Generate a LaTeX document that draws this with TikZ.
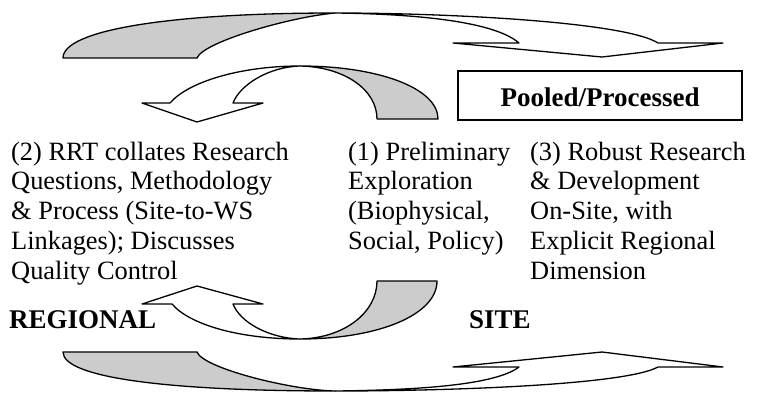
\documentclass[tikz,border=0pt]{standalone}
\usepackage{fontspec}
\setmainfont{Liberation Serif}
\definecolor{shade}{RGB}{204,204,204}
\begin{document}
\begin{tikzpicture}[x=1pt,y=-1pt,
  band/.style={draw=black, line width=1.3pt, line join=round},
  back/.style={band, fill=shade},
  front/.style={band, fill=white},
  txt/.style={anchor=base west, inner sep=0pt, font=\fontsize{26.4pt}{29.8pt}\selectfont},
  lab/.style={anchor=base west, inner sep=0pt, font=\fontsize{27pt}{29.8pt}\selectfont\bfseries}]
\path[use as bounding box] (0,0) rectangle (760,394);

% top big arrow
\path[back] (63,58) .. controls (63,30) and (170,13) .. (335,13)
  .. controls (290,17) and (203,42) .. (197,58) -- cycle;
\path[front] (335,13) .. controls (450,13) and (625,22) .. (658,43)
  -- (723,43) -- (602,57) -- (453,43) -- (519,43)
  .. controls (495,22) and (420,14) .. (335,13) -- cycle;

% middle upper arrow
\path[back] (438,119) .. controls (438,88) and (378,66) .. (300,66)
  .. controls (345,67) and (377,90) .. (377,119) -- cycle;
\path[front] (300,66) .. controls (240,66) and (188,82) .. (170,103)
  -- (142,103) -- (197,122) -- (263,103) -- (233,103)
  .. controls (240,85) and (268,67) .. (300,66) -- cycle;

% middle lower arrow
\path[back] (437,281) .. controls (437,315) and (378,339) .. (300,339)
  .. controls (345,338) and (377,312) .. (377,281) -- cycle;
\path[front] (300,339) .. controls (240,339) and (190,325) .. (172,304)
  -- (142,304) -- (197,286) -- (263,304) -- (233,304)
  .. controls (240,322) and (268,338) .. (300,339) -- cycle;

% bottom big arrow
\path[back] (63,352) .. controls (63,378) and (170,391) .. (335,391)
  .. controls (290,390) and (203,368) .. (197,352) -- cycle;
\path[front] (335,391) .. controls (450,391) and (625,385) .. (658,367)
  -- (723,367) -- (602,352) -- (453,367) -- (519,367)
  .. controls (495,385) and (420,390) .. (335,391) -- cycle;

% box
\node[draw, line width=1.5pt, minimum width=284pt, minimum height=49pt, inner sep=0pt] (pooled) at (600,95.5) {};
\node[lab, anchor=base] (pooledtext) at (600,106) {Pooled/Processed};

% column 1
\node[txt] (c1a) at (11,160) {(2) RRT collates Research};
\node[txt] (c1b) at (11,189.8) {Questions, Methodology};
\node[txt] (c1c) at (11,219.6) {\& Process (Site-to-WS};
\node[txt] (c1d) at (11,249.4) {Linkages); Discusses};
\node[txt] (c1e) at (11,279.2) {Quality Control};
% column 2
\node[txt] (c2a) at (348,160) {(1) Preliminary};
\node[txt] (c2b) at (348,189.8) {Exploration};
\node[txt] (c2c) at (348,219.6) {(Biophysical,};
\node[txt] (c2d) at (348,249.4) {Social, Policy)};
% column 3
\node[txt] (c3a) at (530,160) {(3) Robust Research};
\node[txt] (c3b) at (530,189.8) {\& Development};
\node[txt] (c3c) at (530,219.6) {On-Site, with};
\node[txt] (c3d) at (530,249.4) {Explicit Regional};
\node[txt] (c3e) at (530,279.2) {Dimension};

\node[lab] (regional) at (9,328) {REGIONAL};
\node[lab] (site) at (469,328) {SITE};
\end{tikzpicture}
\end{document}
